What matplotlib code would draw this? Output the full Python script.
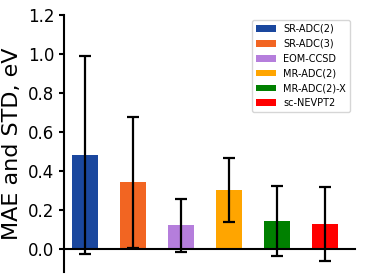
import matplotlib.pyplot as plt

methods = ['SR-ADC(2)', 'SR-ADC(3)', 'EOM-CCSD', 'MR-ADC(2)', 'MR-ADC(2)-X', 'sc-NEVPT2']
mae = [0.48, 0.34, 0.12, 0.30, 0.14, 0.125]
std = [0.51, 0.335, 0.137, 0.165, 0.18, 0.19]
colors = ['#1a479e', '#f26522', '#b57edc', '#ffa500', '#008000', '#ff0000']

fig = plt.figure(figsize=(3.74, 2.8), dpi=100)
ax = fig.add_axes([0.171, 0.029, 0.778, 0.917])

for i, (m, s, c, name) in enumerate(zip(mae, std, colors, methods)):
    ax.bar(i, m, width=0.55, color=c, label=name)
    ax.errorbar(i, m, yerr=s, color='black', elinewidth=1.6, capsize=4, capthick=1.6)

ax.set_xlim(-0.44, 5.625)
ax.set_ylim(-0.12, 1.2)
ax.set_yticks([0.0, 0.2, 0.4, 0.6, 0.8, 1.0, 1.2])
ax.tick_params(axis='y', labelsize=12, width=1.5)
ax.set_xticks([])
ax.set_ylabel('MAE and STD, eV', fontsize=16)

ax.spines['top'].set_visible(False)
ax.spines['right'].set_visible(False)
ax.spines['bottom'].set_position(('data', 0))
ax.spines['left'].set_linewidth(1.5)
ax.spines['bottom'].set_linewidth(1.5)

ax.legend(loc='upper right', fontsize=7)

fig.savefig('out.png')
